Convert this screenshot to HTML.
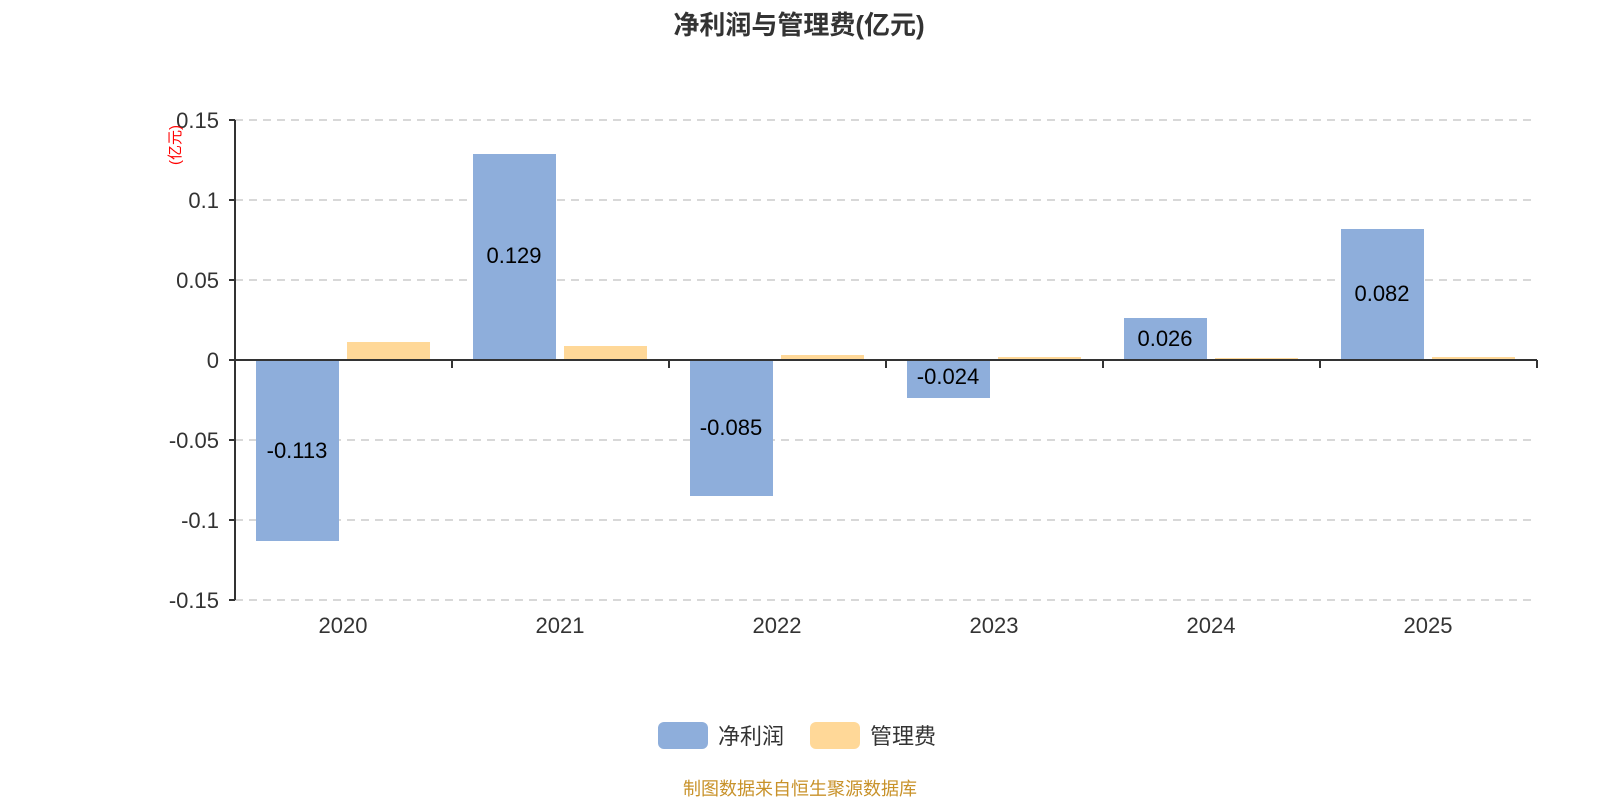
<!DOCTYPE html>
<html><head><meta charset="utf-8"><style>
html,body{margin:0;padding:0;background:#fff;}
svg{display:block;font-family:"Liberation Sans","Noto Sans CJK SC",sans-serif;}
</style></head><body>
<svg width="1600" height="800" viewBox="0 0 1600 800" xmlns="http://www.w3.org/2000/svg">
<text x="799" y="34" text-anchor="middle" font-size="26" font-weight="bold" fill="#333">净利润与管理费(亿元)</text>
<g stroke="#ccc" stroke-width="1.5" stroke-dasharray="8,6">
<line x1="235" y1="120" x2="1537" y2="120"/>
<line x1="235" y1="200" x2="1537" y2="200"/>
<line x1="235" y1="280" x2="1537" y2="280"/>
<line x1="235" y1="440" x2="1537" y2="440"/>
<line x1="235" y1="520" x2="1537" y2="520"/>
<line x1="235" y1="600" x2="1537" y2="600"/>
</g>
<g fill="#8eaedb">
<rect x="256" y="360" width="83" height="181"/>
<rect x="473" y="154" width="83" height="206"/>
<rect x="690" y="360" width="83" height="136"/>
<rect x="907" y="360" width="83" height="38"/>
<rect x="1124" y="318" width="83" height="42"/>
<rect x="1341" y="229" width="83" height="131"/>
</g>
<g fill="#ffd898">
<rect x="347" y="342" width="83" height="18"/>
<rect x="564" y="346" width="83" height="14"/>
<rect x="781" y="355" width="83" height="5"/>
<rect x="998" y="357" width="83" height="3"/>
<rect x="1215" y="358" width="83" height="2"/>
<rect x="1432" y="357" width="83" height="3"/>
</g>
<g stroke="#333" stroke-width="2">
<line x1="235" y1="120" x2="235" y2="600"/>
<line x1="235" y1="360" x2="1537" y2="360"/>
<line x1="229" y1="120" x2="235" y2="120"/>
<line x1="229" y1="200" x2="235" y2="200"/>
<line x1="229" y1="280" x2="235" y2="280"/>
<line x1="229" y1="360" x2="235" y2="360"/>
<line x1="229" y1="440" x2="235" y2="440"/>
<line x1="229" y1="520" x2="235" y2="520"/>
<line x1="229" y1="600" x2="235" y2="600"/>
<line x1="452" y1="360" x2="452" y2="368"/>
<line x1="669" y1="360" x2="669" y2="368"/>
<line x1="886" y1="360" x2="886" y2="368"/>
<line x1="1103" y1="360" x2="1103" y2="368"/>
<line x1="1320" y1="360" x2="1320" y2="368"/>
<line x1="1537" y1="360" x2="1537" y2="368"/>
</g>
<g font-size="22" fill="#333" text-anchor="end">
<text x="219" y="128">0.15</text>
<text x="219" y="208">0.1</text>
<text x="219" y="288">0.05</text>
<text x="219" y="368">0</text>
<text x="219" y="448">-0.05</text>
<text x="219" y="528">-0.1</text>
<text x="219" y="608">-0.15</text>
</g>
<g font-size="22" fill="#333" text-anchor="middle">
<text x="343" y="633">2020</text>
<text x="560" y="633">2021</text>
<text x="777" y="633">2022</text>
<text x="994" y="633">2023</text>
<text x="1211" y="633">2024</text>
<text x="1428" y="633">2025</text>
</g>
<g font-size="22" fill="#000" text-anchor="middle">
<text x="297" y="458">-0.113</text>
<text x="514" y="263">0.129</text>
<text x="731" y="435">-0.085</text>
<text x="948" y="384">-0.024</text>
<text x="1165" y="346">0.026</text>
<text x="1382" y="301">0.082</text>
</g>
<text transform="translate(180,145) rotate(-90)" font-size="15" fill="#f00" text-anchor="middle">(亿元)</text>
<rect x="658" y="722" width="50" height="27" rx="6" fill="#8eaedb"/>
<text x="718" y="744" font-size="22" fill="#333">净利润</text>
<rect x="810" y="722" width="50" height="27" rx="6" fill="#ffd898"/>
<text x="870" y="744" font-size="22" fill="#333">管理费</text>
<text x="800" y="795" font-size="18" fill="#c8922a" text-anchor="middle">制图数据来自恒生聚源数据库</text>
</svg>
</body></html>
